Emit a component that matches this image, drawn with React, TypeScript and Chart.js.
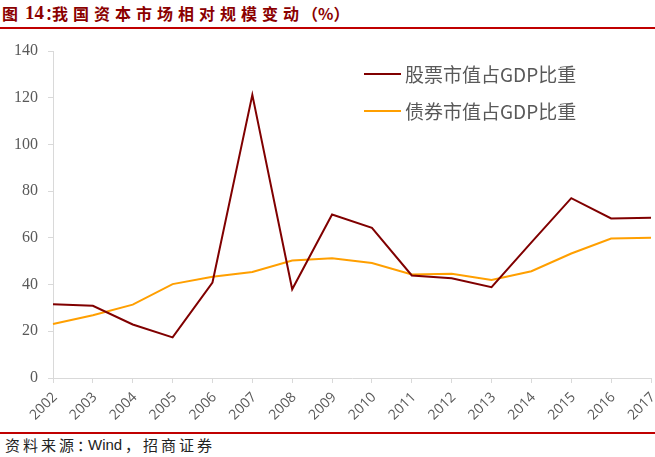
import React, { useEffect, useRef } from "react";
import { Chart, registerables } from "chart.js";

Chart.register(...registerables);

const years = ["2002","2003","2004","2005","2006","2007","2008","2009","2010","2011","2012","2013","2014","2015","2016","2017"];
const stockToGdp = [31.6, 30.9, 22.9, 17.4, 40.9, 121.2, 38.0, 70.0, 64.3, 43.9, 42.7, 38.9, 58.1, 77.0, 68.3, 68.6];
const bondToGdp = [23.1, 26.9, 31.4, 40.2, 43.3, 45.4, 50.3, 51.3, 49.2, 44.3, 44.6, 42.0, 45.7, 53.3, 59.7, 60.0];
const seriesNames = ["股票市值占GDP比重", "债券市值占GDP比重"];
const seriesColors = ["#800000", "#FF9F00"];

export default function App() {
  const ref = useRef<HTMLCanvasElement | null>(null);

  useEffect(() => {
    if (!ref.current) return;
    const axisColor = "#D9D9D9";
    const chart = new Chart(ref.current, {
      type: "line",
      data: {
        labels: years,
        datasets: [
          { label: seriesNames[0], data: stockToGdp, borderColor: seriesColors[0], backgroundColor: seriesColors[0], borderWidth: 2, pointRadius: 0, tension: 0 },
          { label: seriesNames[1], data: bondToGdp, borderColor: seriesColors[1], backgroundColor: seriesColors[1], borderWidth: 2, pointRadius: 0, tension: 0 },
        ],
      },
      options: {
        animation: false,
        responsive: false,
        devicePixelRatio: 1,
        layout: { padding: { left: 0, right: 4, top: 21, bottom: 0 } },
        plugins: { legend: { display: false }, tooltip: { enabled: false } },
        scales: {
          x: {
            offset: false,
            grid: { display: true, drawOnChartArea: false, drawTicks: true, tickLength: 5, color: axisColor },
            border: { color: axisColor, width: 1 },
            ticks: {
              autoSkip: false,
              maxRotation: 45,
              minRotation: 45,
              padding: 6,
              labelOffset: 2,
              color: "#595959",
              font: { family: "'Open Sans', sans-serif", size: 14 },
            },
            afterFit: (s: any) => { s.height = 52; s.paddingRight = 0; s.paddingLeft = 0; },
          },
          y: {
            min: 0,
            max: 140,
            grid: { display: true, drawOnChartArea: false, drawTicks: true, tickLength: 5, color: axisColor },
            border: { color: axisColor, width: 1 },
            ticks: {
              stepSize: 20,
              padding: 10,
              color: "#595959",
              font: { family: "'Liberation Serif', serif", size: 16 },
            },
            afterFit: (s: any) => { s.width = 53; },
          },
        },
      },
    });
    return () => chart.destroy();
  }, []);

  const legendRow = (i: number, top: number) => (
    <div key={i}>
      <div style={{ position: "absolute", left: 364, top: top - 1, width: 37, height: 2, background: seriesColors[i] }} />
      <div style={{ position: "absolute", left: 405, top: top - 13, height: 26, lineHeight: "26px", fontFamily: "'Noto Sans CJK SC', sans-serif", fontSize: 19, color: "#595959", whiteSpace: "nowrap" }}>
        {seriesNames[i]}
      </div>
    </div>
  );

  const titleStyle: React.CSSProperties = { position: "absolute", top: 1, height: 24, lineHeight: "24px", fontFamily: "'Noto Sans CJK SC', serif", fontWeight: 700, fontSize: 16, color: "#8B0000", whiteSpace: "nowrap" };
  const srcStyle: React.CSSProperties = { position: "absolute", top: 435, height: 20, lineHeight: "20px", fontFamily: "'Noto Sans CJK SC', sans-serif", fontSize: 15, color: "#222", whiteSpace: "nowrap" };

  return (
    <div style={{ position: "absolute", left: 0, top: 0, width: 655, height: 457, background: "#fff", overflow: "hidden" }}>
      <div style={{ ...titleStyle, left: 2 }}>图</div>
      <div style={{ ...titleStyle, left: 25, fontFamily: "'Liberation Serif', serif", fontSize: 19 }}>14</div>
      <div style={{ ...titleStyle, left: 45 }}>：</div>
      <div style={{ ...titleStyle, left: 52, letterSpacing: 5 }}>我国资本市场相对规模变动</div>
      <div style={{ ...titleStyle, left: 302 }}>（%）</div>
      <div style={{ position: "absolute", left: 0, top: 27, width: 655, height: 2, background: "#C00000" }} />
      <canvas ref={ref} width={655} height={400} style={{ position: "absolute", left: 0, top: 30, width: 655, height: 400 }} />
      {legendRow(0, 74)}
      {legendRow(1, 111)}
      <div style={{ position: "absolute", left: 0, top: 432, width: 655, height: 2, background: "#C00000" }} />
      <div style={{ ...srcStyle, left: 5, letterSpacing: 3 }}>资料来源：</div>
      <div style={{ ...srcStyle, left: 88, fontFamily: "'Liberation Sans', sans-serif" }}>Wind</div>
      <div style={{ ...srcStyle, left: 125, letterSpacing: 3 }}>，招商证券</div>
    </div>
  );
}
